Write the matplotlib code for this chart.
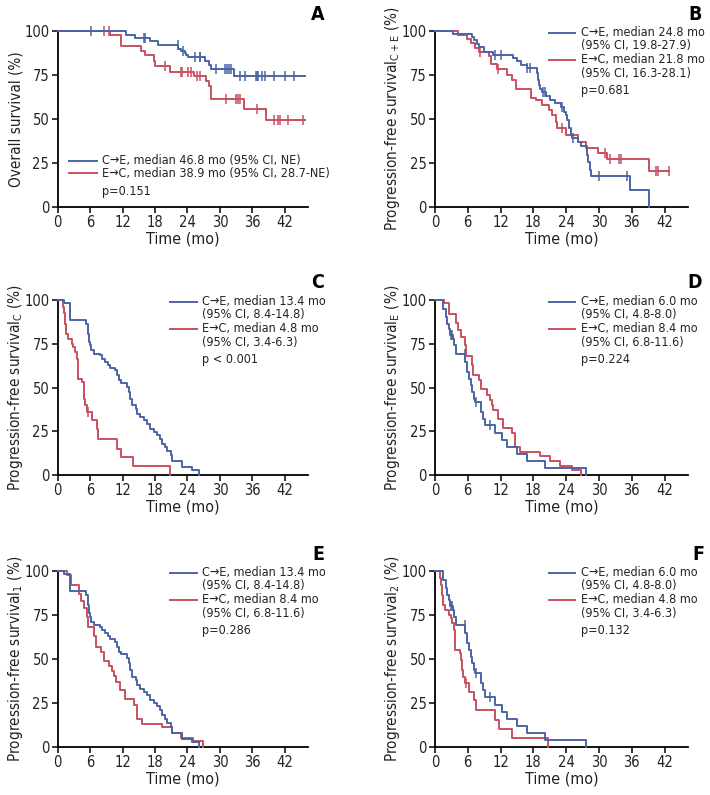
import numpy as np
import matplotlib
matplotlib.use("Agg")
import matplotlib.pyplot as plt
from matplotlib import font_manager

# pick a narrow sans face if one is installed, else Liberation Sans
narrow = None
for f in font_manager.fontManager.ttflist:
    st = str(f.stretch)
    if ("Narrow" in f.name or "Condensed" in f.name or st in ("condensed", "semi-condensed")) \
            and "Mono" not in f.name and "Serif" not in f.name:
        narrow = f
        break
if narrow is not None:
    plt.rcParams["font.family"] = [narrow.name, "DejaVu Sans"]
    plt.rcParams["font.stretch"] = narrow.stretch
    FS_TICK, FS_XLAB, FS_YLAB, FS_LEG, FS_LET = 10.5, 11.5, 11, 9, 14
else:
    plt.rcParams["font.family"] = ["Liberation Sans", "DejaVu Sans"]
    FS_TICK, FS_XLAB, FS_YLAB, FS_LEG, FS_LET = 9.5, 10, 9.6, 7.6, 13

BLUE = "#4a64a6"
RED = "#c8505f"

# ---- OS (panel A) ----
os_ce_t = [0, 12.7, 14.3, 17.0, 18.6, 22.3, 22.8, 23.5, 23.8, 24.1, 27.2, 27.9, 28.4, 32.6, 32.7]
os_ce_s = [100, 97.5, 96.2, 94.1, 91.8, 89.9, 88.8, 87.7, 86.1, 85.2, 82.7, 80.5, 78.6, 76.3, 74.2]
os_ce_end = 45.7
os_ce_cens = [6.2, 16.0, 16.2, 22.2, 23.2, 25.4, 26.3, 26.4, 29.2, 30.9, 31.4, 31.7, 32.0,
              33.7, 34.6, 36.6, 36.8, 37.0, 37.8, 38.4, 40.1, 42.0, 43.8]
os_ec_t = [0, 9.7, 11.7, 15.4, 16.1, 17.8, 18.0, 20.7, 25.2, 27.5, 27.9, 28.4, 34.4, 38.6]
os_ec_s = [100, 97.5, 91.5, 88.6, 86.1, 82.7, 80.1, 76.7, 74.3, 71.3, 68.7, 61.5, 55.4, 49.1]
os_ec_end = 45.7
os_ec_cens = [8.6, 9.4, 19.9, 22.8, 23.0, 24.1, 24.6, 25.7, 26.4, 31.2, 33.0, 33.4, 33.7,
              36.9, 40.1, 40.7, 41.2, 42.6, 45.4]

# ---- PFS C+E (panel B) ----
pfs_ce_t = [0, 3.3, 6.8, 7.2, 7.6, 8.1, 9.0, 10.6, 14.2, 15.0, 15.8, 16.8, 18.6, 18.8, 19.0,
            19.3, 19.6, 20.3, 21.0, 22.0, 23.0, 23.6, 23.9, 24.2, 24.5, 24.8, 25.1, 26.1,
            26.7, 27.8, 28.0, 28.4, 28.5, 35.7, 39.1]
pfs_ce_s = [100, 98.2, 96.4, 94.6, 92.8, 91.0, 88.0, 86.5, 84.6, 82.7, 80.8, 78.8, 76.0, 72.0,
            69.0, 67.0, 65.0, 63.0, 61.0, 58.8, 57.0, 54.0, 52.2, 49.4, 44.7, 41.0, 39.0, 37.1,
            34.3, 29.5, 25.7, 21.0, 17.5, 9.5, 0]
pfs_ce_end = 39.1
pfs_ce_cens = [11.0, 12.0, 16.9, 17.4, 19.8, 20.2, 23.3, 25.3, 30.0, 35.2]
pfs_ec_t = [0, 4.2, 5.8, 6.6, 7.3, 8.0, 9.8, 10.2, 11.3, 13.1, 14.1, 14.8, 17.5, 18.4, 19.6,
            20.8, 21.5, 22.1, 22.4, 23.9, 26.2, 27.6, 29.8, 31.5, 39.1]
pfs_ec_s = [100, 97.6, 95.2, 92.9, 90.5, 88.1, 85.7, 81.0, 78.6, 75.2, 72.0, 66.8, 61.7, 60.7,
            57.9, 55.0, 52.2, 48.4, 44.6, 40.8, 36.9, 33.6, 30.7, 27.0, 20.5]
pfs_ec_end = 42.8
pfs_ec_cens = [8.3, 11.6, 23.3, 31.2, 32.0, 33.6, 34.1, 40.5, 40.8, 42.8]

# ---- PFS chemotherapy (panel C, reused in E and F) ----
pfs_c_ce_t = [0, 1.2, 2.3, 5.2, 5.6, 5.7, 6.0, 6.2, 6.8, 7.9, 8.2, 8.8, 9.3, 9.7, 10.6, 11.0,
              11.3, 11.8, 12.8, 13.2, 13.4, 13.7, 14.4, 14.7, 15.3, 15.9, 16.5, 17.1, 17.8,
              18.4, 19.0, 19.3, 19.9, 20.2, 20.9, 21.2, 23.0, 24.9, 26.1]
pfs_c_ce_s = [100, 98.2, 88.4, 86.5, 80.8, 76.0, 74.1, 71.2, 69.3, 68.4, 66.5, 64.6, 63.0,
              61.1, 59.8, 57.0, 54.1, 52.8, 50.3, 47.4, 43.6, 39.8, 37.9, 35.0, 33.1, 31.2,
              29.3, 26.5, 24.6, 23.0, 20.8, 17.9, 16.0, 13.5, 11.2, 7.8, 4.6, 2.7, 0]
pfs_c_ce_end = 26.1
pfs_c_ce_cens = []
pfs_c_ec_t = [0, 0.9, 1.1, 1.3, 1.5, 1.9, 2.6, 2.9, 3.2, 3.5, 3.7, 4.5, 4.8, 4.9, 5.1, 5.4,
              6.3, 7.2, 7.5, 10.9, 11.8, 14.0, 20.7]
pfs_c_ec_s = [100, 96.2, 92.3, 86.5, 80.8, 77.9, 75.0, 73.1, 70.3, 66.5, 55.0, 53.1, 49.3,
              43.6, 39.8, 36.0, 31.2, 26.5, 20.8, 15.0, 10.3, 5.1, 0]
pfs_c_ec_end = 20.7
pfs_c_ec_cens = [5.6]

# ---- PFS EGFR-TKI (panel D, reused in E and F) ----
pfs_e_ce_t = [0, 1.5, 2.0, 2.2, 2.5, 2.8, 3.3, 3.5, 3.8, 5.5, 5.8, 6.2, 6.5, 6.8, 7.1, 7.4,
              8.5, 8.7, 9.1, 11.0, 12.3, 13.2, 15.0, 16.9, 20.1, 27.6]
pfs_e_ce_s = [100, 95.0, 90.3, 86.5, 83.6, 79.8, 77.9, 74.1, 69.3, 64.6, 58.9, 55.0, 51.2,
              47.4, 43.6, 41.7, 36.0, 32.2, 28.4, 24.0, 20.0, 16.0, 12.0, 8.0, 4.0, 0]
pfs_e_ce_end = 27.6
pfs_e_ce_cens = [3.0, 3.2, 5.4, 7.5, 10.1]
pfs_e_ec_t = [0, 1.7, 2.5, 3.9, 4.3, 4.8, 5.5, 5.6, 6.7, 7.0, 8.0, 8.5, 9.5, 10.0, 10.4, 10.7,
              11.5, 12.5, 14.1, 14.7, 15.6, 19.3, 21.1, 22.8, 25.1, 26.8]
pfs_e_ec_s = [100, 98.0, 92.0, 87.0, 83.0, 79.0, 74.0, 68.0, 63.0, 57.0, 54.0, 49.0, 46.0,
              43.0, 40.0, 37.0, 32.0, 27.0, 24.0, 16.0, 13.0, 11.0, 8.0, 5.0, 3.0, 0]
pfs_e_ec_end = 26.8
pfs_e_ec_cens = []

chemo_ce = (pfs_c_ce_t, pfs_c_ce_s, pfs_c_ce_end, pfs_c_ce_cens)
chemo_ec = (pfs_c_ec_t, pfs_c_ec_s, pfs_c_ec_end, pfs_c_ec_cens)
egfr_ce = (pfs_e_ce_t, pfs_e_ce_s, pfs_e_ce_end, pfs_e_ce_cens)
egfr_ec = (pfs_e_ec_t, pfs_e_ec_s, pfs_e_ec_end, pfs_e_ec_cens)

panels = [
    dict(letter="A", ylabel="Overall survival (%)",
         blue=(os_ce_t, os_ce_s, os_ce_end, os_ce_cens),
         red=(os_ec_t, os_ec_s, os_ec_end, os_ec_cens),
         leg=["C\u2192E, median 46.8 mo (95% CI, NE)",
              "E\u2192C, median 38.9 mo (95% CI, 28.7-NE)", "p=0.151"]),
    dict(letter="B", ylabel="Progression-free survival$\\mathregular{_{C+E}}$ (%)",
         blue=(pfs_ce_t, pfs_ce_s, pfs_ce_end, pfs_ce_cens),
         red=(pfs_ec_t, pfs_ec_s, pfs_ec_end, pfs_ec_cens),
         leg=["C\u2192E, median 24.8 mo", "(95% CI, 19.8-27.9)",
              "E\u2192C, median 21.8 mo", "(95% CI, 16.3-28.1)", "p=0.681"]),
    dict(letter="C", ylabel="Progression-free survival$\\mathregular{_{C}}$ (%)",
         blue=chemo_ce, red=chemo_ec,
         leg=["C\u2192E, median 13.4 mo", "(95% CI, 8.4-14.8)",
              "E\u2192C, median 4.8 mo", "(95% CI, 3.4-6.3)", "p < 0.001"]),
    dict(letter="D", ylabel="Progression-free survival$\\mathregular{_{E}}$ (%)",
         blue=egfr_ce, red=egfr_ec,
         leg=["C\u2192E, median 6.0 mo", "(95% CI, 4.8-8.0)",
              "E\u2192C, median 8.4 mo", "(95% CI, 6.8-11.6)", "p=0.224"]),
    dict(letter="E", ylabel="Progression-free survival$\\mathregular{_{1}}$ (%)",
         blue=chemo_ce, red=egfr_ec,
         leg=["C\u2192E, median 13.4 mo", "(95% CI, 8.4-14.8)",
              "E\u2192C, median 8.4 mo", "(95% CI, 6.8-11.6)", "p=0.286"]),
    dict(letter="F", ylabel="Progression-free survival$\\mathregular{_{2}}$ (%)",
         blue=egfr_ce, red=chemo_ec,
         leg=["C\u2192E, median 6.0 mo", "(95% CI, 4.8-8.0)",
              "E\u2192C, median 4.8 mo", "(95% CI, 3.4-6.3)", "p=0.132"]),
]

W, H = 710, 795
fig = plt.figure(figsize=(W / 100, H / 100), dpi=100)

# axes boxes in pixels: left, top (y of 100), right, bottom (y of 0)
boxes = [(57.7, 31, 308, 206.7), (435, 31, 688, 206.7),
         (57.7, 300, 308, 475), (435, 300, 688, 475),
         (57.7, 571, 308, 746.7), (435, 571, 688, 746.7)]
letter_pos = [(318, 15), (695, 15), (318, 283), (695, 283), (318, 555), (698, 555)]


def km(ax, curve, color):
    t, s, end, cens = curve
    xs = list(t) + [end]
    ys = list(s) + [s[-1]]
    ax.step(xs, ys, where="post", color=color, lw=1.4, clip_on=False, zorder=3)
    if cens:
        idx = np.searchsorted(np.array(t), np.array(cens), side="right") - 1
        cy = np.array(s)[idx]
        ax.plot(cens, cy, ls="none", marker="|", ms=6.5, mew=1.1, color=color,
                clip_on=False, zorder=3)


for i, p in enumerate(panels):
    l, top, r, b = boxes[i]
    ax = fig.add_axes([l / W, 1 - b / H, (r - l) / W, (b - top) / H])
    km(ax, p["red"], RED)
    km(ax, p["blue"], BLUE)
    ax.set_xlim(0, 46.3)
    ax.set_ylim(0, 100)
    ax.set_xticks(range(0, 43, 6))
    ax.set_yticks([0, 25, 50, 75, 100])
    for sp in ["top", "right"]:
        ax.spines[sp].set_visible(False)
    for sp in ["left", "bottom"]:
        ax.spines[sp].set_linewidth(1.3)
    ax.tick_params(direction="out", length=4, width=1.1, labelsize=FS_TICK, pad=2,
                   labelcolor="#222222")
    ax.set_xlabel("Time (mo)", fontsize=FS_XLAB, labelpad=1, color="#222222")
    ax.set_ylabel(p["ylabel"], fontsize=FS_YLAB, color="#222222", va="center")
    ax.yaxis.set_label_coords(-0.168, 0.5)

    leg = p["leg"]
    if p["letter"] == "A":
        ax.plot([0.045, 0.157], [0.262, 0.262], transform=ax.transAxes, color=BLUE, lw=1.4)
        ax.plot([0.045, 0.157], [0.19, 0.19], transform=ax.transAxes, color=RED, lw=1.4)
        for txt, yy in zip(leg, [0.262, 0.19, 0.085]):
            ax.text(0.176, yy, txt, transform=ax.transAxes, fontsize=FS_LEG, va="center",
                    color="#222222")
    else:
        ys = [0.99, 0.915, 0.835, 0.757, 0.662]
        ax.plot([0.45, 0.555], [ys[0], ys[0]], transform=ax.transAxes, color=BLUE, lw=1.4,
                clip_on=False)
        ax.plot([0.45, 0.555], [ys[2], ys[2]], transform=ax.transAxes, color=RED, lw=1.4)
        for txt, yy in zip(leg, ys):
            ax.text(0.578, yy, txt, transform=ax.transAxes, fontsize=FS_LEG, va="center",
                    color="#222222")

    lx, ly = letter_pos[i]
    fig.text(lx / W, 1 - ly / H, p["letter"], fontsize=FS_LET, fontweight="bold",
             ha="center", va="center")

fig.savefig("out.png", dpi=100)
